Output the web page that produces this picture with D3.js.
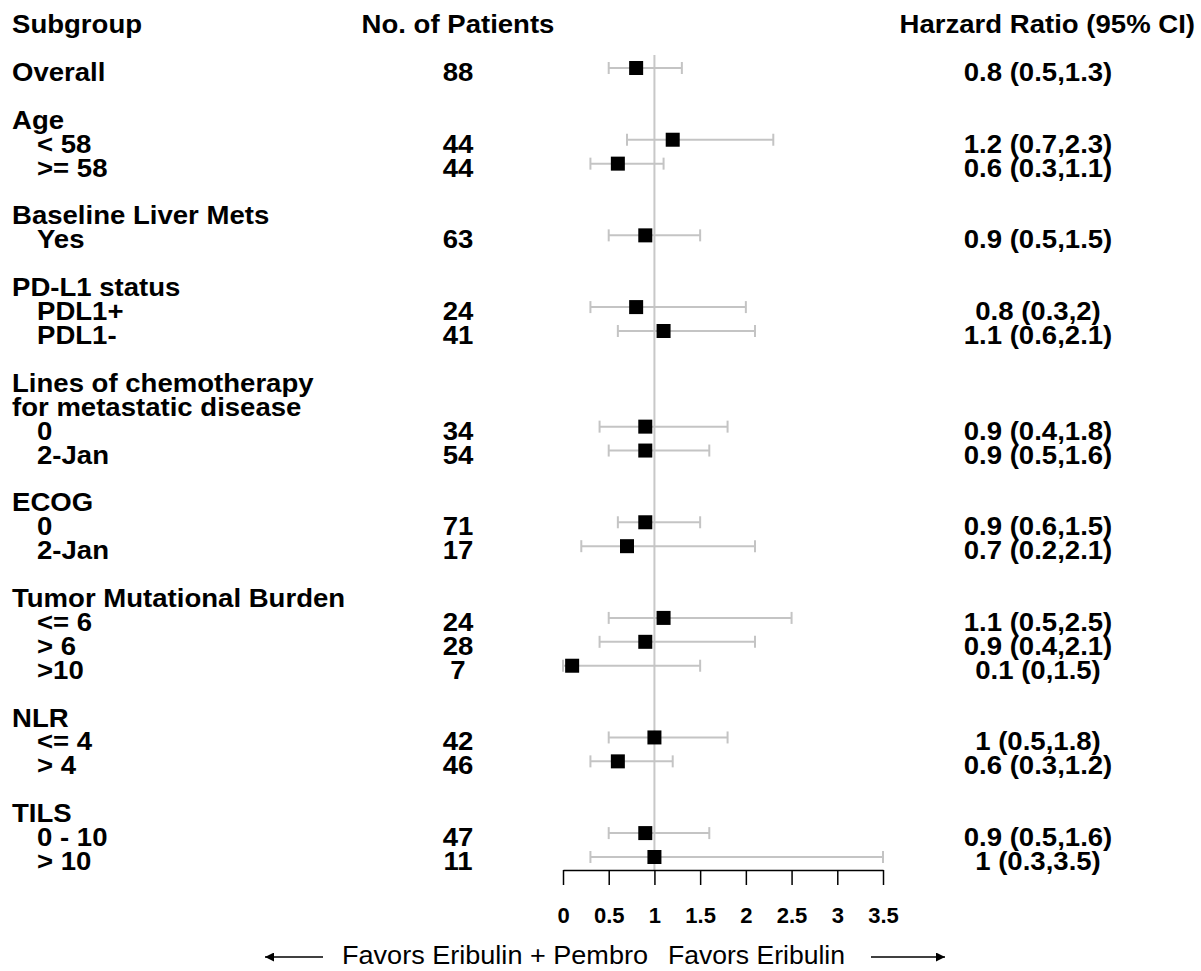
<!DOCTYPE html>
<html>
<head>
<meta charset="utf-8">
<script src="https://cdn.jsdelivr.net/npm/d3@7"></script>
<style>
  body { margin: 0; background: #fff; }
  text { font-family: "Liberation Sans", Arial, sans-serif; }
</style>
</head>
<body>
<div id="forest"></div>
<script>
// Data
var subgroups = ["Overall", "< 58", ">= 58", "Yes", "PDL1+", "PDL1-", "0", "2-Jan", "0", "2-Jan",
  "<= 6", "> 6", ">10", "<= 4", "> 4", "0 - 10", "> 10"];
var patients = [88, 44, 44, 63, 24, 41, 34, 54, 71, 17, 24, 28, 7, 42, 46, 47, 11];
var hazard = [0.8, 1.2, 0.6, 0.9, 0.8, 1.1, 0.9, 0.9, 0.9, 0.7, 1.1, 0.9, 0.1, 1, 0.6, 0.9, 1];
var ciLow = [0.5, 0.7, 0.3, 0.5, 0.3, 0.6, 0.4, 0.5, 0.6, 0.2, 0.5, 0.4, 0, 0.5, 0.3, 0.5, 0.3];
var ciHigh = [1.3, 2.3, 1.1, 1.5, 2, 2.1, 1.8, 1.6, 1.5, 2.1, 2.5, 2.1, 1.5, 1.8, 1.2, 1.6, 3.5];

// group headings and how many subgroups sit under each
var groupTitles = [[], ["Age"], ["Baseline Liver Mets"], ["PD-L1 status"],
  ["Lines of chemotherapy", "for metastatic disease"], ["ECOG"], ["Tumor Mutational Burden"], ["NLR"], ["TILS"]];
var groupSizes = [1, 2, 1, 2, 2, 2, 3, 2, 2];

var xTicks = [0, 0.5, 1, 1.5, 2, 2.5, 3, 3.5];
var columnTitles = ["Subgroup", "No. of Patients", "Harzard Ratio (95% CI)"];
var favorLeft = "Favors Eribulin + Pembro";
var favorRight = "Favors Eribulin";

var svgWidth = 1201;
var svgHeight = 971;

var svg = d3.select("#forest")
  .append("svg")
  .attr("width", svgWidth)
  .attr("height", svgHeight);

// Lay out rows: titles, then items, then one blank row per group
// ==============================
var titleRows = [];
var dataRows = [];
var r = 0;
var k = 0;
groupTitles.forEach(function(titles, gi) {
  titles.forEach(function(t) { titleRows.push({ text: t, row: r++ }); });
  for (var j = 0; j < groupSizes[gi]; j++) {
    dataRows.push({
      label: subgroups[k], n: patients[k], hr: hazard[k], lo: ciLow[k], hi: ciHigh[k],
      indent: titles.length > 0, row: r++
    });
    k++;
  }
  r++;
});

// Scales
// ==============================
var yScale = d3.scaleLinear().domain([0, 33]).range([68, 857]);
var xScale = d3.scaleLinear().domain([0, 3.5]).range([563, 883]);

var fontSize = 26;
var stretch = 1.06;
var labelX = 12, indentX = 37, countX = 458, hrX = 1038;

function addText(x, y, str, anchor) {
  return svg.append("text")
    .attr("transform", `translate(${x}, ${y}) scale(${stretch}, 1)`)
    .attr("text-anchor", anchor)
    .attr("font-size", fontSize)
    .attr("font-weight", "bold")
    .attr("fill", "#000")
    .text(str);
}

// Column titles
var headY = yScale(-2) + 13;
addText(labelX, headY, columnTitles[0], "start");
addText(countX, headY, columnTitles[1], "middle");
addText(1195, headY, columnTitles[2], "end");

// Group titles
titleRows.forEach(function(t) {
  addText(labelX, yScale(t.row) + 13, t.text, "start");
});

// Subgroup label, count, HR text
dataRows.forEach(function(d) {
  var ty = yScale(d.row) + 13;
  addText(d.indent ? indentX : labelX, ty, d.label, "start");
  addText(countX, ty, d.n, "middle");
  addText(hrX, ty, `${d.hr} (${d.lo},${d.hi})`, "middle");
});

// Reference line at HR = 1
svg.append("line")
  .attr("x1", xScale(1)).attr("x2", xScale(1))
  .attr("y1", 55).attr("y2", 870)
  .attr("stroke", "#c8c8c8")
  .attr("stroke-width", 2);

// CI whiskers
var ci = svg.append("g").attr("stroke", "#c4c4c4").attr("stroke-width", 2);
ci.selectAll(".ci")
  .data(dataRows)
  .enter()
  .append("line")
  .attr("x1", d => xScale(d.lo))
  .attr("x2", d => xScale(d.hi))
  .attr("y1", d => yScale(d.row))
  .attr("y2", d => yScale(d.row));

ci.selectAll(".capLo")
  .data(dataRows)
  .enter()
  .append("line")
  .attr("x1", d => xScale(d.lo))
  .attr("x2", d => xScale(d.lo))
  .attr("y1", d => yScale(d.row) - 6)
  .attr("y2", d => yScale(d.row) + 6);

ci.selectAll(".capHi")
  .data(dataRows)
  .enter()
  .append("line")
  .attr("x1", d => xScale(d.hi))
  .attr("x2", d => xScale(d.hi))
  .attr("y1", d => yScale(d.row) - 6)
  .attr("y2", d => yScale(d.row) + 6);

// Point estimates
var box = 14;
svg.selectAll(".pt")
  .data(dataRows)
  .enter()
  .append("rect")
  .attr("x", d => xScale(d.hr) - box / 2)
  .attr("y", d => yScale(d.row) - box / 2)
  .attr("width", box)
  .attr("height", box)
  .attr("fill", "#000");

// Axis
// ==============================
var bottomAxis = d3.axisBottom(xScale)
  .tickValues(xTicks)
  .tickFormat(d3.format(""))
  .tickSize(15)
  .tickSizeOuter(0)
  .tickPadding(22);

var axisG = svg.append("g")
  .attr("transform", "translate(0, 870)")
  .call(bottomAxis);

axisG.select(".domain").attr("stroke", "#000").attr("stroke-width", 1.5);
axisG.selectAll(".tick line").attr("stroke", "#000").attr("stroke-width", 1.5);
axisG.selectAll(".tick text")
  .attr("font-family", "Liberation Sans, Arial, sans-serif")
  .attr("font-size", 22)
  .attr("font-weight", "bold")
  .attr("fill", "#000");

// Favors labels and arrows
// ==============================
var favorY = 964;
svg.append("text")
  .attr("x", 648).attr("y", favorY)
  .attr("text-anchor", "end")
  .attr("font-family", "Lato, 'Open Sans', sans-serif")
  .attr("font-size", 25)
  .attr("textLength", 306)
  .attr("lengthAdjust", "spacingAndGlyphs")
  .text(favorLeft);

svg.append("text")
  .attr("x", 668).attr("y", favorY)
  .attr("font-family", "Lato, 'Open Sans', sans-serif")
  .attr("font-size", 25)
  .attr("textLength", 177)
  .attr("lengthAdjust", "spacingAndGlyphs")
  .text(favorRight);

var defs = svg.append("defs");
defs.append("marker")
  .attr("id", "arrow")
  .attr("viewBox", "0 0 10 10")
  .attr("refX", 10).attr("refY", 5)
  .attr("markerWidth", 11).attr("markerHeight", 9)
  .attr("markerUnits", "userSpaceOnUse")
  .attr("orient", "auto")
  .append("path")
  .attr("d", "M0,0 L10,5 L0,10 Z")
  .attr("fill", "#000");

svg.append("line")
  .attr("x1", 323).attr("x2", 265)
  .attr("y1", 957).attr("y2", 957)
  .attr("stroke", "#000").attr("stroke-width", 1.3)
  .attr("marker-end", "url(#arrow)");

svg.append("line")
  .attr("x1", 871).attr("x2", 945)
  .attr("y1", 957).attr("y2", 957)
  .attr("stroke", "#000").attr("stroke-width", 1.3)
  .attr("marker-end", "url(#arrow)");
</script>
</body>
</html>
